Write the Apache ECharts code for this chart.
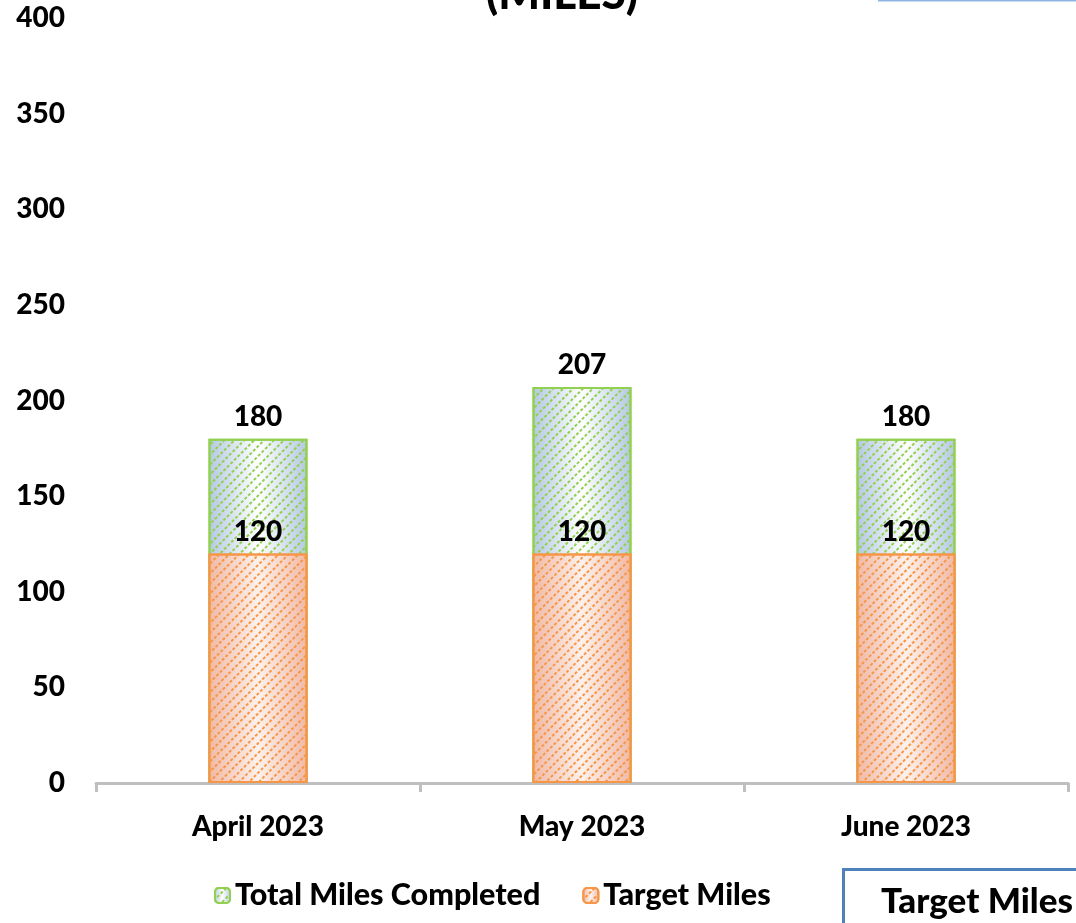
<!DOCTYPE html>
<html>
<head>
<meta charset="utf-8">
<script src="https://cdn.jsdelivr.net/npm/echarts@6/dist/echarts.min.js"></script>
<style>
html,body{margin:0;padding:0;background:#fff;}
#chart{width:1076px;height:923px;}
</style>
</head>
<body>
<div id="chart"></div>
<script>
const categories = ['April 2023', 'May 2023', 'June 2023'];
const totalMiles = [180, 207, 180];
const targetMiles = [120, 120, 120];
const yTicks = [0, 50, 100, 150, 200, 250, 300, 350, 400];
const titleText = '(MILES)';
const boxText = 'Target Miles';

const FONT = 'Lato, "Liberation Sans", sans-serif';
const W = 900;

function grad(edge, mid) {
  return {
    type: 'linear', x: 0, y: 0, x2: 1, y2: 0,
    colorStops: [
      { offset: 0, color: edge },
      { offset: 0.5, color: mid },
      { offset: 1, color: edge }
    ]
  };
}

const chart = echarts.init(document.getElementById('chart'), null, { renderer: 'canvas' });
chart.setOption({
  animation: false,
  aria: { enabled: true, decal: { show: true } },
  grid: { left: 96, right: 8, top: 18, bottom: 140, containLabel: false },
  xAxis: {
    type: 'category',
    data: categories,
    axisLine: { lineStyle: { color: '#bfbfbf', width: 3 } },
    axisTick: { show: true, length: 9, lineStyle: { color: '#bfbfbf', width: 3 } },
    axisLabel: { color: '#000', fontFamily: FONT, fontWeight: W, fontSize: 28, margin: 30 }
  },
  yAxis: {
    type: 'value',
    min: yTicks[0],
    max: yTicks[yTicks.length - 1],
    interval: yTicks[1] - yTicks[0],
    splitLine: { show: false },
    axisLine: { show: false },
    axisTick: { show: false },
    axisLabel: { color: '#000', fontFamily: FONT, fontWeight: W, fontSize: 28, margin: 31 }
  },
  legend: {
    left: 209,
    top: 875,
    itemWidth: 15,
    itemHeight: 15,
    itemGap: 42,
    textStyle: { color: '#000', fontFamily: FONT, fontWeight: W, fontSize: 30.5 },
    data: ['Total Miles Completed', 'Target Miles']
  },
  series: [
    {
      name: 'Total Miles Completed',
      type: 'bar',
      data: totalMiles,
      barWidth: 99,
      barGap: '-100%',
      z: 2,
      itemStyle: {
        color: grad('#b4c8e2', '#ffffff'),
        borderColor: '#92d050',
        borderWidth: 2,
        decal: {
          symbol: 'rect', symbolSize: 1, color: '#92d050',
          dashArrayX: [3, 1.5], dashArrayY: [1.6, 4.2], rotation: -Math.PI / 4
        }
      },
      label: {
        show: true, position: 'top', distance: 8,
        color: '#000', fontFamily: FONT, fontWeight: W, fontSize: 28
      }
    },
    {
      name: 'Target Miles',
      type: 'bar',
      data: targetMiles,
      barWidth: 99,
      barGap: '-100%',
      z: 3,
      itemStyle: {
        color: grad('#f0b9a6', '#fdf1ec'),
        borderColor: '#f79646',
        borderWidth: 2,
        decal: {
          symbol: 'rect', symbolSize: 1, color: '#f79646',
          dashArrayX: [3, 1.5], dashArrayY: [1.6, 4.2], rotation: -Math.PI / 4
        }
      },
      label: {
        show: true, position: 'top', distance: 8,
        color: '#000', fontFamily: FONT, fontWeight: W, fontSize: 28
      }
    }
  ],
  graphic: [
    {
      type: 'text', z: 10,
      style: {
        text: titleText, x: 562, y: 17, textAlign: 'center', textVerticalAlign: 'bottom',
        fill: '#000', font: W + ' 44px ' + FONT
      }
    },
    {
      type: 'line', z: 10,
      shape: { x1: 878, y1: 0.5, x2: 1076, y2: 0.5 },
      style: { stroke: '#8eb4e3', lineWidth: 2 }
    },
    {
      type: 'rect', z: 10,
      shape: { x: 843.5, y: 869.5, width: 260, height: 100 },
      style: { fill: '#fff', stroke: '#4f81bd', lineWidth: 3 }
    },
    {
      type: 'text', z: 11,
      style: {
        text: boxText, x: 881, y: 902, textVerticalAlign: 'middle',
        fill: '#000', font: W + ' 35px ' + FONT
      }
    }
  ]
});
</script>
</body>
</html>
